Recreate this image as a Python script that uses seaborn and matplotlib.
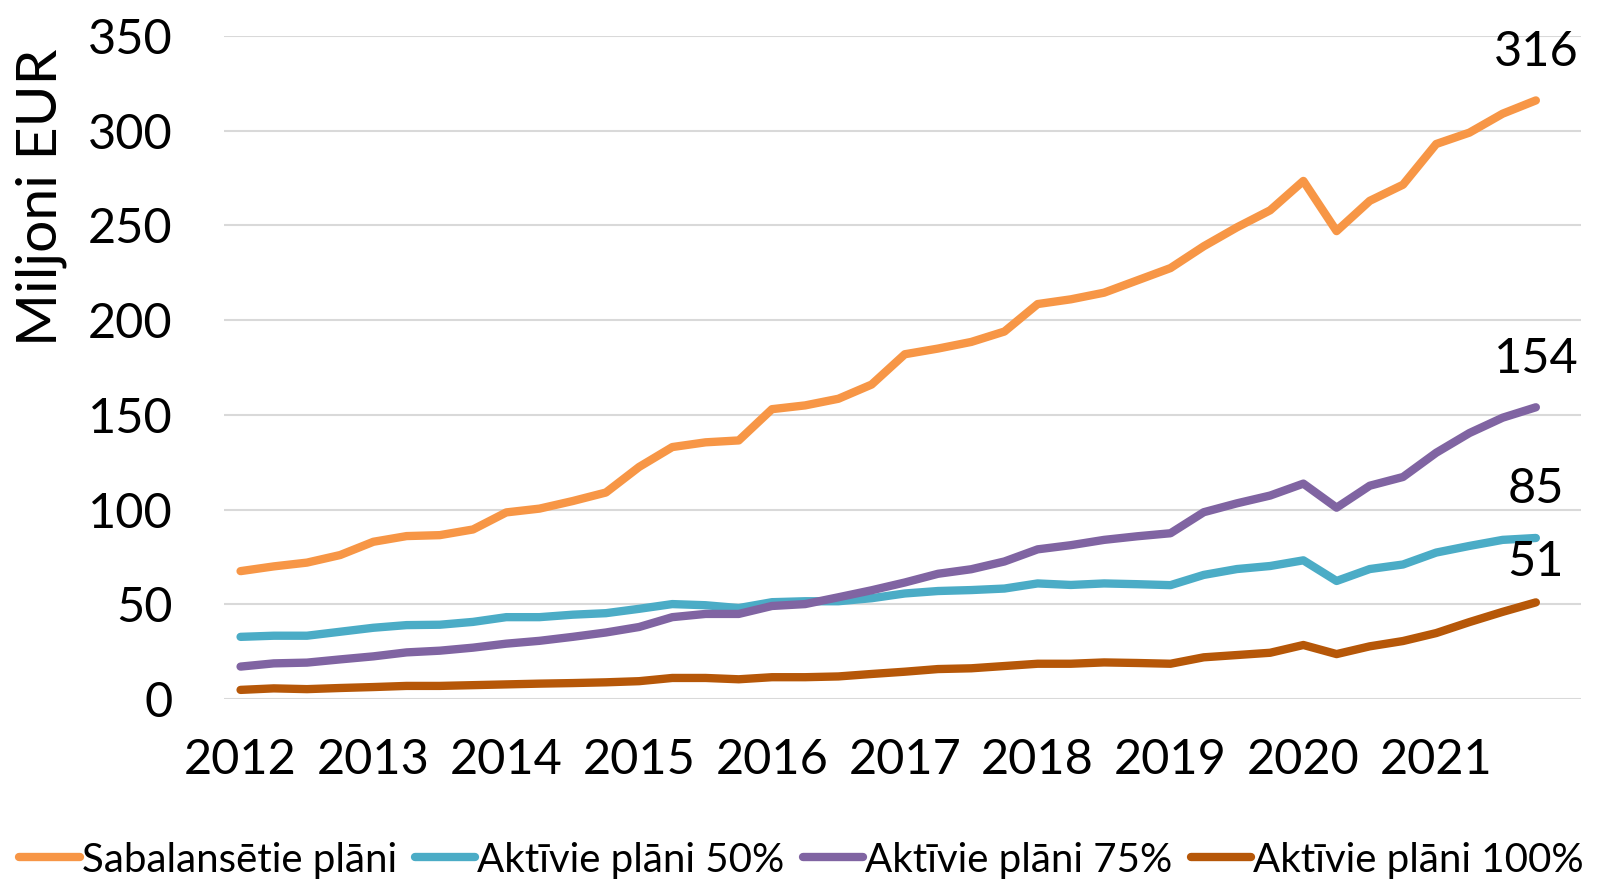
import pandas as pd
import matplotlib
matplotlib.use("Agg")
import matplotlib.pyplot as plt
import seaborn as sns

# quarterly values, 2012 Q1 .. 2021 Q4
years = ["2012", "2013", "2014", "2015", "2016", "2017", "2018", "2019", "2020", "2021"]
series_names = ["Sabalansētie plāni", "Aktīvie plāni 50%", "Aktīvie plāni 75%", "Aktīvie plāni 100%"]
colors = ["#F79646", "#4BACC6", "#8064A2", "#B65708"]

sabalansetie = [67.5, 70, 72, 76, 83, 86, 86.5, 89.5, 98.5, 100.5, 104.5, 109,
                122.5, 133, 135.5, 136.5, 153, 155, 158.5, 166, 182, 185, 188.5, 194,
                208.5, 211, 214.5, 221, 227.5, 239, 249, 258, 273.5, 247, 263, 271.5,
                293, 299, 309, 316]
aktivie_50 = [32.8, 33.4, 33.4, 35.5, 37.6, 39, 39.2, 40.7, 43.2, 43.2, 44.5, 45.3,
              47.6, 50.1, 49.5, 48, 51.1, 51.6, 51.6, 53.2, 55.7, 57, 57.5, 58.3,
              61, 60.2, 61, 60.6, 60.1, 65.5, 68.6, 70.2, 73.2, 62.3, 68.6, 71,
              77.3, 80.8, 84, 85]
aktivie_75 = [17.1, 18.8, 19.2, 20.9, 22.5, 24.6, 25.5, 27.1, 29.2, 30.7, 32.8, 35.1,
              38, 43.2, 44.9, 44.9, 49.1, 50.1, 53.7, 57.4, 61.5, 66.1, 68.5, 72.6,
              79, 81.2, 84, 85.9, 87.5, 98.6, 103.3, 107.4, 113.7, 101, 112.6, 117.2,
              130, 140.4, 148.5, 154]
aktivie_100 = [4.8, 5.6, 5.2, 5.8, 6.3, 6.9, 6.9, 7.3, 7.7, 8.1, 8.4, 8.8,
               9.4, 11.1, 11.1, 10.4, 11.5, 11.5, 11.9, 13.2, 14.4, 15.8, 16.2, 17.4,
               18.6, 18.6, 19.3, 19, 18.6, 22, 23.2, 24.4, 28.5, 23.7, 27.8, 30.6,
               34.8, 40.6, 46, 51]

all_values = [sabalansetie, aktivie_50, aktivie_75, aktivie_100]
rows = []
for name, vals in zip(series_names, all_values):
    for i, v in enumerate(vals):
        rows.append({"q": i, "serija": name, "vertiba": v})
df = pd.DataFrame(rows)

sns.set_theme(style="white")
plt.rcParams["font.family"] = ["Lato", "DejaVu Sans"]
plt.rcParams["text.color"] = "black"

fig = plt.figure(figsize=(16.1, 8.83), dpi=100)
ax = fig.add_axes([0.1391, 0.2084, 0.982 - 0.1391, 0.9592 - 0.2084])

sns.lineplot(data=df, x="q", y="vertiba", hue="serija", hue_order=series_names,
             palette=colors, linewidth=6, solid_capstyle="round", legend=False, ax=ax)

ax.set_ylim(0, 350)
ax.set_xlim(-0.5, 40.36)
ax.set_yticks(range(0, 351, 50))
ax.set_xticks(range(0, 40, 4))
ax.set_xticklabels(years)
ax.grid(axis="y", color="#D9D9D9", linewidth=1.5)
ax.set_axisbelow(True)
for s in ax.spines.values():
    s.set_visible(False)
ax.tick_params(axis="y", labelsize=35, pad=37, length=0, labelcolor="black")
ax.tick_params(axis="x", labelsize=35, pad=28, length=0, labelcolor="black")
ax.set_xlabel("")
ax.set_ylabel("")

fig.text(41 / 1610, 1 - 197 / 883, "Miljoni EUR", rotation=90, fontsize=41,
         ha="center", va="center", color="black")

# end labels
offsets = [35, 35, 35, 29]
for vals, off in zip(all_values, offsets):
    ax.annotate(f"{vals[-1]:.0f}", xy=(len(vals) - 1, vals[-1]), xytext=(0, off),
                textcoords="offset points", ha="center", va="center", fontsize=35,
                color="black")

handles = [plt.Line2D([], [], color=c, linewidth=6, solid_capstyle="round") for c in colors]
fig.legend(handles, series_names, loc="center left", bbox_to_anchor=(0.012, 0.026),
           ncol=4, frameon=False, fontsize=29, handlelength=1.5, handletextpad=0.05,
           columnspacing=0.45, borderpad=0, borderaxespad=0)

fig.savefig("out.png", dpi=100)
